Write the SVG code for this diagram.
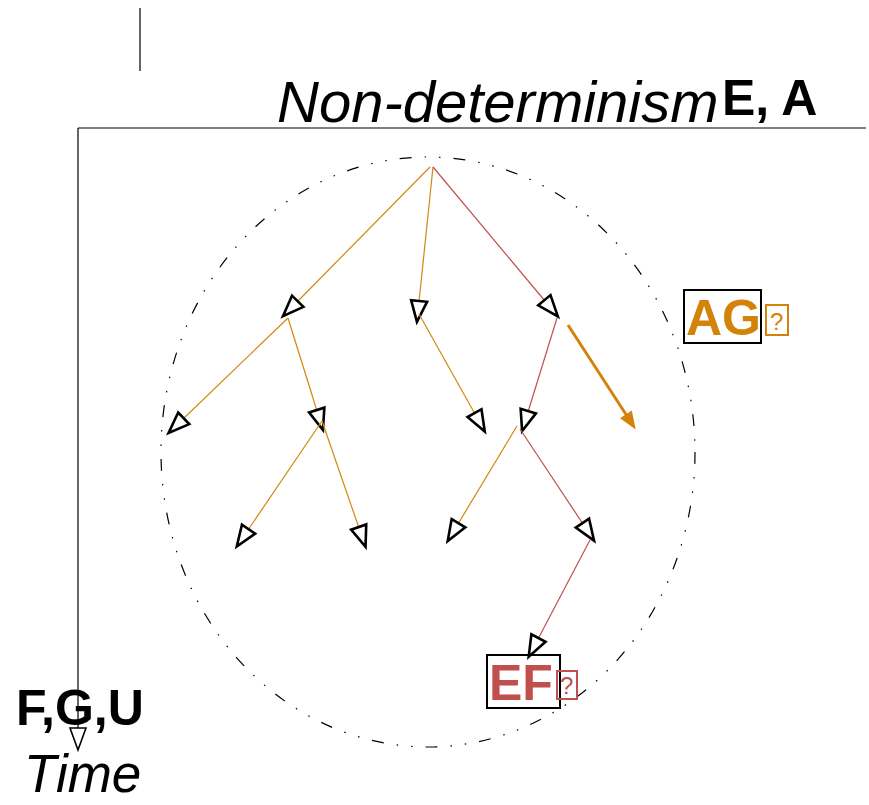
<svg xmlns="http://www.w3.org/2000/svg" width="869" height="805" viewBox="0 0 869 805">
<style>
.or{stroke:#d4870f;stroke-width:1.2;fill:none}
.rd{stroke:#c0504d;stroke-width:1.2;fill:none}
.ax{stroke:#000;stroke-width:1.2;fill:none}
.big{font-family:"Liberation Sans",Arial,sans-serif;font-weight:bold;font-size:50px}
.it{font-family:"Liberation Sans",Arial,sans-serif;font-style:italic;font-size:58px}
.q{font-family:"Liberation Sans",Arial,sans-serif;font-size:24px}
</style>
<defs>
<marker id="open" markerUnits="userSpaceOnUse" markerWidth="30" markerHeight="24" refX="1" refY="8" orient="auto" overflow="visible">
<path d="M0,0 L21,8 L0,16 Z" fill="#fff" stroke="#000" stroke-width="2.6" stroke-linejoin="miter"/>
</marker>
<marker id="axis" markerUnits="userSpaceOnUse" markerWidth="30" markerHeight="24" refX="0" refY="8" orient="auto" overflow="visible">
<path d="M0,0 L22,8 L0,16 Z" fill="#fff" stroke="#000" stroke-width="1.6"/>
</marker>
<marker id="fill" markerUnits="userSpaceOnUse" markerWidth="24" markerHeight="20" refX="2" refY="7" orient="auto" overflow="visible">
<path d="M0,0 L18,7 L0,14 Z" fill="#d4830a"/>
</marker>
</defs>

<g id="axes">
<line class="ax" x1="140" y1="8" x2="140" y2="71"/>
<line class="ax" x1="78" y1="128" x2="866" y2="128"/>
<line class="ax" x1="78" y1="128" x2="78" y2="728" marker-end="url(#axis)"/>
</g>

<g id="boundary">
<ellipse cx="428" cy="452" rx="267" ry="295" fill="none" stroke="#000" stroke-width="1.2" stroke-dasharray="12 13 1.5 13 1.5 13"/>
</g>

<g id="connectors">
<line class="or" x1="430" y1="167" x2="297" y2="302" marker-end="url(#open)"/>
<line class="or" x1="433" y1="167" x2="419" y2="302" marker-end="url(#open)"/>
<line class="rd" x1="433" y1="167" x2="545" y2="301" marker-end="url(#open)"/>
<line class="or" x1="288" y1="318" x2="183" y2="419" marker-end="url(#open)"/>
<line class="or" x1="288" y1="318" x2="317" y2="411" marker-end="url(#open)"/>
<line class="or" x1="322" y1="421" x2="248" y2="530" marker-end="url(#open)"/>
<line class="or" x1="322" y1="421" x2="359" y2="528" marker-end="url(#open)"/>
<line class="or" x1="419" y1="314" x2="475" y2="414" marker-end="url(#open)"/>
<line class="rd" x1="557" y1="318" x2="528" y2="412" marker-end="url(#open)"/>
<line class="or" x1="517" y1="426" x2="458" y2="524" marker-end="url(#open)"/>
<line class="rd" x1="520" y1="429" x2="583" y2="524" marker-end="url(#open)"/>
<line class="rd" x1="590" y1="540" x2="538" y2="639" marker-end="url(#open)"/>
<line x1="568" y1="325" x2="627" y2="416" stroke="#d4830a" stroke-width="3" marker-end="url(#fill)"/>
</g>

<g id="label-nondeterminism">
<text class="it" x="277" y="122">Non-determinism</text>
<text class="big" x="722" y="115">E, A</text>
</g>

<g id="label-time">
<text class="big" x="16" y="725">F,G,U</text>
<text class="it" x="24" y="792" style="font-size:53px">Time</text>
</g>

<g id="node-AG">
<rect x="684" y="290" width="77" height="53" fill="none" stroke="#000" stroke-width="2"/>
<text class="big" x="686" y="335" fill="#d4830a">AG</text>
<rect x="766" y="305" width="22" height="30" fill="none" stroke="#d4830a" stroke-width="2"/>
<text class="q" x="770" y="330" fill="#d4830a">?</text>
</g>

<g id="node-EF">
<rect x="487" y="655" width="73" height="53" fill="none" stroke="#000" stroke-width="2"/>
<text class="big" x="489" y="700" fill="#c0504d">EF</text>
<rect x="557" y="671" width="20" height="28" fill="none" stroke="#c0504d" stroke-width="2"/>
<text class="q" x="560" y="694" fill="#c0504d">?</text>
</g>
</svg>
